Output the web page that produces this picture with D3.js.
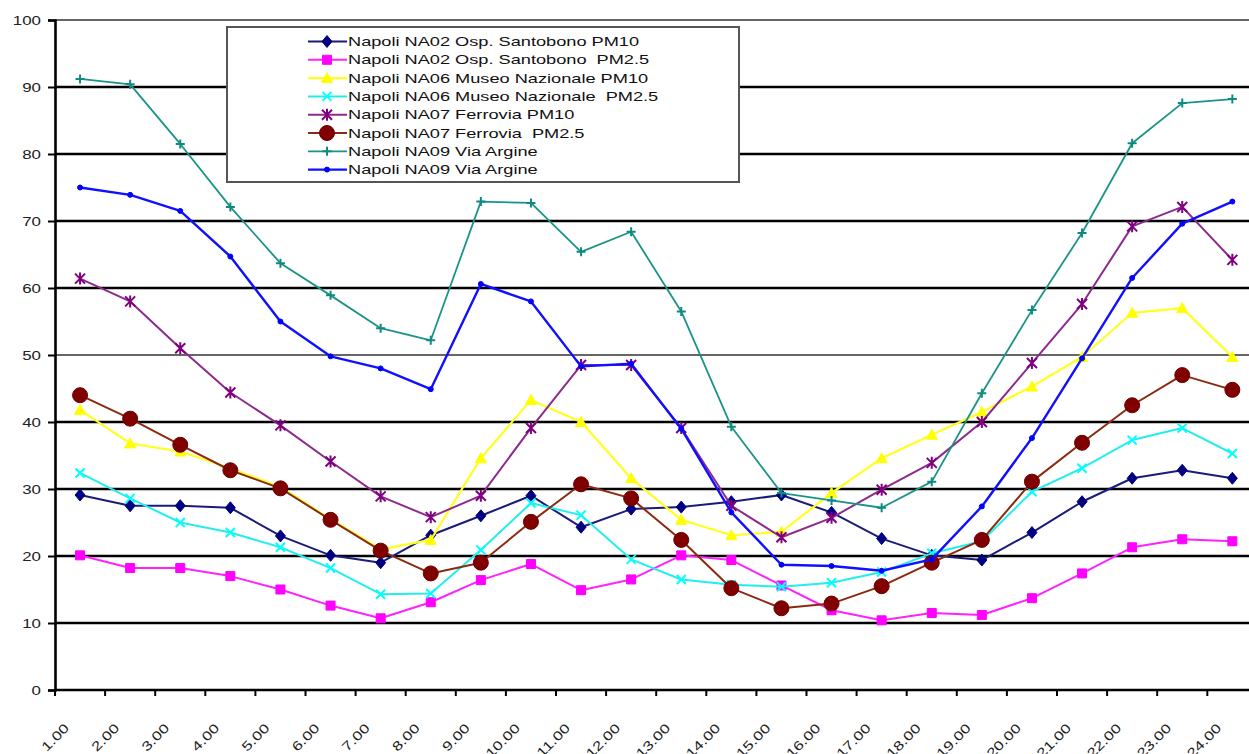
<!DOCTYPE html>
<html><head><meta charset="utf-8">
<script src="https://cdn.jsdelivr.net/npm/d3@7/dist/d3.min.js"></script>
<style>
body{margin:0;background:#fff;}
svg{display:block;font-family:Arial,"Liberation Sans",sans-serif;}
text{white-space:pre;}
</style>
</head><body>
<svg id="chart" width="1249" height="754"></svg>
<script>
// ---- data ----
const hours = ["1.00","2.00","3.00","4.00","5.00","6.00","7.00","8.00","9.00","10.00","11.00","12.00",
               "13.00","14.00","15.00","16.00","17.00","18.00","19.00","20.00","21.00","22.00","23.00","24.00"];
const yTicks = [0,10,20,30,40,50,60,70,80,90,100];
const seriesNames = [
  "Napoli NA02 Osp. Santobono PM10",
  "Napoli NA02 Osp. Santobono  PM2.5",
  "Napoli NA06 Museo Nazionale PM10",
  "Napoli NA06 Museo Nazionale  PM2.5",
  "Napoli NA07 Ferrovia PM10",
  "Napoli NA07 Ferrovia  PM2.5",
  "Napoli NA09 Via Argine",
  "Napoli NA09 Via Argine"
];
const na02PM10  = [29.1,27.5,27.5,27.2,23.0,20.1,19.0,23.1,26.0,29.0,24.3,27.0,27.3,28.1,29.1,26.5,22.6,20.1,19.4,23.5,28.1,31.6,32.8,31.6];
const na02PM25  = [20.1,18.2,18.2,17.0,15.0,12.6,10.7,13.1,16.4,18.8,14.9,16.5,20.1,19.4,15.6,11.9,10.4,11.5,11.2,13.7,17.4,21.3,22.5,22.2];
const na06PM10  = [41.8,36.8,35.6,33.1,30.3,25.5,21.0,22.4,34.6,43.3,40.0,31.6,25.4,23.1,23.6,29.4,34.6,38.1,41.5,45.3,49.7,56.3,57.0,49.7];
const na06PM25  = [32.4,28.6,25.0,23.5,21.3,18.2,14.3,14.4,20.9,27.9,26.1,19.5,16.5,15.7,15.4,16.0,17.6,20.4,22.2,29.6,33.1,37.3,39.1,35.3];
const na07PM10  = [61.4,58.0,51.0,44.4,39.5,34.1,28.9,25.8,29.0,39.1,48.5,48.5,39.1,27.5,22.8,25.7,29.9,33.9,40.0,48.8,57.6,69.2,72.1,64.2];
const na07PM25  = [44.0,40.5,36.6,32.8,30.1,25.4,20.8,17.4,19.0,25.1,30.7,28.6,22.4,15.2,12.2,12.9,15.5,19.0,22.4,31.1,36.9,42.5,47.0,44.8];
const na09a     = [91.2,90.4,81.5,72.1,63.7,58.9,54.0,52.2,72.9,72.7,65.4,68.4,56.5,39.3,29.4,28.3,27.2,31.1,44.3,56.7,68.2,81.6,87.6,88.2];
const na09b     = [75.0,73.9,71.5,64.7,55.0,49.8,48.0,44.9,60.6,58.0,48.3,48.7,39.0,26.5,18.7,18.5,17.8,19.5,27.4,37.6,49.5,61.5,69.6,72.9];

// ---- styles ----
const styles = [
  {color:"#000080", line:"#1b1b7a", marker:"diamond", size:5, lw:2},
  {color:"#ff00ff", line:"#ff22ff", marker:"square", size:4.5, lw:2},
  {color:"#ffff00", line:"#ffff22", marker:"triangle", size:5, lw:2.2},
  {color:"#00ffff", line:"#22eeee", marker:"x", size:4.5, lw:2},
  {color:"#800080", line:"#8e2a8e", marker:"star", size:5, lw:2},
  {color:"#800000", line:"#8b2a10", marker:"circle", size:7.5, lw:2},
  {color:"#0e8a80", line:"#1a9488", marker:"plus", size:4.5, lw:1.8},
  {color:"#0000ff", line:"#1010ff", marker:"dot", size:2.5, lw:2.4}
];
const seriesData = [na02PM10, na02PM25, na06PM10, na06PM25, na07PM10, na07PM25, na09a, na09b];

const svg = d3.select("#chart");
const plotLeft = 55, plotTop = 20, plotBottom = 690, step = 50.1;
const x = d3.scaleBand().domain(hours).range([plotLeft, plotLeft + step*hours.length]).padding(0);
const xc = h => x(h) + x.bandwidth()/2;
const y = d3.scaleLinear().domain([0,100]).range([plotBottom, plotTop]);

// gridlines
svg.append("g").selectAll("line").data(yTicks.filter(t => t > 0)).join("line")
  .attr("x1", plotLeft).attr("x2", 1249)
  .attr("y1", d => y(d)).attr("y2", d => y(d))
  .attr("stroke", d => (d === 50 || d === 100) ? "#666" : "#000")
  .attr("stroke-width", d => (d === 50 || d === 100) ? 2 : 2.6);

// y axis
const yAxis = svg.append("g").attr("transform", `translate(${plotLeft},0)`)
  .call(d3.axisLeft(y).tickValues(yTicks).tickSize(7).tickFormat(""));
yAxis.select(".domain").attr("stroke","#000").attr("stroke-width",2.6);
yAxis.selectAll(".tick line").attr("stroke","#000").attr("stroke-width",2);
svg.append("g").selectAll("g").data(yTicks).join("g")
  .attr("transform", d => `translate(41,${y(d)}) scale(1.3,1)`)
  .append("text").attr("text-anchor","end").attr("dy","0.36em")
  .attr("font-size",13).attr("fill","#222").text(d => d);

// x axis
svg.append("line").attr("x1", plotLeft).attr("x2", 1249).attr("y1", plotBottom).attr("y2", plotBottom)
  .attr("stroke","#000").attr("stroke-width",2.6);
svg.append("g").selectAll("line").data(hours).join("line")
  .attr("x1", d => x(d)).attr("x2", d => x(d))
  .attr("y1", plotBottom).attr("y2", plotBottom + 6)
  .attr("stroke","#000").attr("stroke-width",2);
svg.append("g").selectAll("g").data(hours).join("g")
  .attr("transform", d => `translate(${xc(d) - 17},722) rotate(-45) scale(1.3,1)`)
  .append("text").attr("text-anchor","end").attr("dy","0.75em")
  .attr("font-size",13).attr("fill","#222").text(d => d);

// markers
function markerPath(type, s) {
  switch (type) {
    case "diamond": return `M0,${-s*1.2}L${s},0L0,${s*1.2}L${-s},0Z`;
    case "square": return `M${-s},${-s}H${s}V${s}H${-s}Z`;
    case "triangle": return `M0,${-s*1.1}L${s*1.1},${s*0.9}L${-s*1.1},${s*0.9}Z`;
    case "x": return `M${-s},${-s}L${s},${s}M${-s},${s}L${s},${-s}`;
    case "star": return `M${-s},${-s}L${s},${s}M${-s},${s}L${s},${-s}M0,${-s*1.2}V${s*1.2}`;
    case "plus": return `M0,${-s}V${s}M${-s},0H${s}`;
    case "circle": return d3.symbol(d3.symbolCircle, Math.PI*s*s)();
    case "dot": return d3.symbol(d3.symbolCircle, Math.PI*s*s)();
  }
}
const open = t => (t === "x" || t === "star" || t === "plus");

const line = d3.line().x((d,i) => xc(hours[i])).y(d => y(d));
seriesData.forEach((data, k) => {
  const st = styles[k];
  const g = svg.append("g");
  g.append("path").datum(data).attr("d", line).attr("fill","none")
    .attr("stroke", st.line).attr("stroke-width", st.lw).attr("stroke-linejoin","round");
  g.selectAll("path.m").data(data).join("path").attr("class","m")
    .attr("transform", (d,i) => `translate(${xc(hours[i])},${y(d)})`)
    .attr("d", markerPath(st.marker, st.size))
    .attr("fill", open(st.marker) ? "none" : st.color)
    .attr("stroke", st.marker === "circle" ? "#6a0000" : st.color)
    .attr("stroke-width", open(st.marker) ? 2 : 1);
});

// legend
const lg = svg.append("g");
lg.append("rect").attr("x",227).attr("y",27).attr("width",512).attr("height",155)
  .attr("fill","#fff").attr("stroke","#555").attr("stroke-width",2);
const rowY = i => 41.5 + i*18.3;
seriesNames.forEach((name, k) => {
  const st = styles[k];
  const ry = rowY(k);
  lg.append("line").attr("x1",308).attr("x2",347).attr("y1",ry).attr("y2",ry)
    .attr("stroke", st.line).attr("stroke-width", st.lw);
  lg.append("path").attr("transform",`translate(327,${ry})`)
    .attr("d", markerPath(st.marker, st.size))
    .attr("fill", open(st.marker) ? "none" : st.color)
    .attr("stroke", st.marker === "circle" ? "#6a0000" : st.color)
    .attr("stroke-width", open(st.marker) ? 2 : 1);
  lg.append("g").attr("transform",`translate(348,${ry}) scale(1.4,1)`)
    .append("text").attr("dy","0.36em").attr("font-size",13).attr("fill","#111").text(name);
});
</script>
</body></html>
